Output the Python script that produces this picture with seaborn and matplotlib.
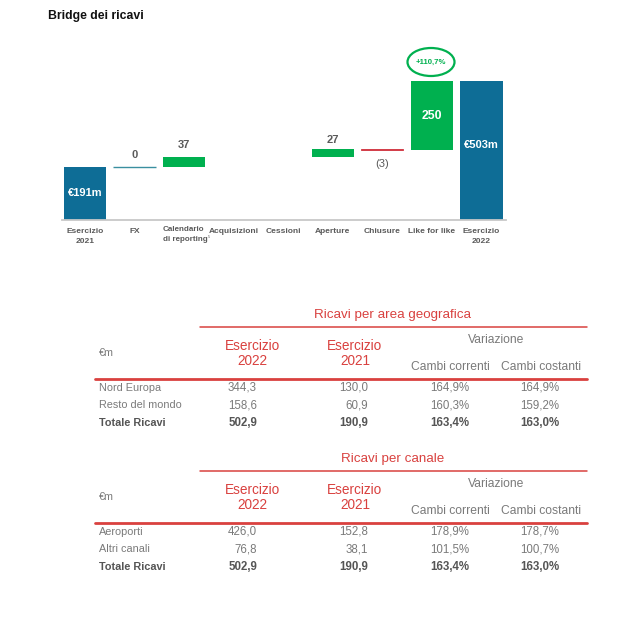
import numpy as np
import pandas as pd
import matplotlib
matplotlib.use("Agg")
import matplotlib.pyplot as plt
from matplotlib.lines import Line2D
from matplotlib.patches import Ellipse
import seaborn as sns

# ---------------- data ----------------
categories = ["Esercizio\n2021", "FX", "Calendario\ndi reporting", "Acquisizioni",
              "Cessioni", "Aperture", "Chiusure", "Like for like", "Esercizio\n2022"]
bridge_values = [191, 0, 37, 0, 0, 27, -3, 250, 503]
bar_kind = ["total", "line", "up", "none", "none", "up", "down", "up", "total"]
bridge_labels = ["€191m", "0", "37", "", "", "27", "(3)", "250", "€503m"]
growth_label = "+110,7%"

table1_title = "Ricavi per area geografica"
table1_rows = ["Nord Europa", "Resto del mondo", "Totale Ricavi"]
table1_2022 = ["344,3", "158,6", "502,9"]
table1_2021 = ["130,0", "60,9", "190,9"]
table1_correnti = ["164,9%", "160,3%", "163,4%"]
table1_costanti = ["164,9%", "159,2%", "163,0%"]

table2_title = "Ricavi per canale"
table2_rows = ["Aeroporti", "Altri canali", "Totale Ricavi"]
table2_2022 = ["426,0", "76,8", "502,9"]
table2_2021 = ["152,8", "38,1", "190,9"]
table2_correnti = ["178,9%", "101,5%", "163,4%"]
table2_costanti = ["178,7%", "100,7%", "163,0%"]

# ---------------- style ----------------
sns.set_style("white")
plt.rcParams["font.family"] = ["Liberation Sans", "DejaVu Sans"]

BLUE = "#0E6D96"
GREEN = "#00B04F"
RED_LINE = "#D0303C"
TEAL = "#3A8FA0"
GREY_TXT = "#5A5A5A"
TAB_RED = "#D9413F"
TAB_GREY = "#7A7A7A"

W, H = 640, 631
fig = plt.figure(figsize=(6.4, 6.31), dpi=100)


def fx(x):
    return x / W


def fy(y):
    return 1 - y / H


# ---------------- waterfall ----------------
ax = fig.add_axes([fx(62), fy(220), fx(506) - fx(62), fy(40) - fy(220)])

# bottoms from running totals
bottoms = []
running = 0
for v, k in zip(bridge_values, bar_kind):
    if k == "total":
        bottoms.append(0)
        running = v
    else:
        bottoms.append(running)
        running += v

color_map = {"total": BLUE, "line": TEAL, "up": GREEN, "down": RED_LINE, "none": "white"}
palette = {c: color_map[k] for c, k in zip(categories, bar_kind)}

df = pd.DataFrame({"cat": categories, "val": bridge_values})
sns.barplot(data=df, x="cat", y="val", hue="cat", palette=palette, order=categories,
            hue_order=categories, legend=False, width=0.85, saturation=1,
            errorbar=None, ax=ax, linewidth=0)

for p in ax.patches:
    idx = int(round(p.get_x() + p.get_width() / 2))
    kind = bar_kind[idx]
    p.set_y(bottoms[idx])
    if kind == "none":
        p.set_visible(False)
    elif kind == "line":
        p.set_edgecolor(TEAL)
        p.set_linewidth(1.0)
    elif kind == "down":
        p.set_edgecolor(RED_LINE)
        p.set_linewidth(0.6)

ax.set_xlim(-0.464, 8.495)
ax.set_ylim(0, 651)
for s in ["top", "right", "left"]:
    ax.spines[s].set_visible(False)
ax.spines["bottom"].set_color("#C8C8C8")
ax.spines["bottom"].set_linewidth(1.3)
ax.set_yticks([])
ax.set_xlabel("")
ax.set_ylabel("")

TICK_FS = 6.0
ax.set_xticks(range(len(categories)))
ax.set_xticklabels([c if i != 2 else "" for i, c in enumerate(categories)],
                   fontsize=TICK_FS, fontweight="bold", color=GREY_TXT, linespacing=1.6)
ax.tick_params(axis="x", length=0, pad=5.5)
# left-aligned "Calendario di reporting" label
ax.text(2 - 0.425, -0.033, categories[2], transform=ax.get_xaxis_transform(),
        ha="left", va="top", fontsize=5.75, fontweight="bold", color=GREY_TXT,
        linespacing=1.65, multialignment="left")
ax.text(2 + 0.505, -0.092, "5", transform=ax.get_xaxis_transform(),
        ha="center", va="center", fontsize=2.8, color=GREY_TXT)

# value labels
for i, (v, k, lab) in enumerate(zip(bridge_values, bar_kind, bridge_labels)):
    if not lab:
        continue
    top = bottoms[i] + max(v, 0)
    if k == "total":
        ycen = 193 if i == 0 else 145
        ax.text(i, (220 - ycen) / 0.2763, lab, ha="center", va="center",
                color="white", fontsize=8, fontweight="bold")
    elif i == 7:
        ax.text(i, bottoms[i] + v * 0.5, lab, ha="center", va="center",
                color="white", fontsize=8.8, fontweight="bold")
    elif k == "down":
        ax.annotate(lab, (i, bottoms[i] + v), xytext=(0, -6.5), textcoords="offset points",
                    ha="center", va="top", color=GREY_TXT, fontsize=8)
    else:
        off = 3 if i == 5 else 5
        ax.annotate(lab, (i, top), xytext=(0, off), textcoords="offset points",
                    ha="center", va="bottom", color=GREY_TXT, fontsize=8,
                    fontweight="bold")

# growth bubble
ell = Ellipse((fx(431), fy(62)), fx(47), 28 / H, transform=fig.transFigure,
              fill=False, edgecolor=GREEN, linewidth=1.6)
fig.add_artist(ell)
fig.text(fx(431), fy(62), growth_label, ha="center", va="center",
         color=GREEN, fontsize=5.6, fontweight="bold")

# title
fig.text(fx(48), fy(16), "Bridge dei ricavi", ha="left", va="center",
         fontsize=8.8, fontweight="bold", color="#111111")


# ---------------- tables ----------------
def hline(x0, x1, y, lw):
    fig.add_artist(Line2D([fx(x0), fx(x1)], [fy(y), fy(y)], transform=fig.transFigure,
                          color=TAB_RED, linewidth=lw))


def draw_table(y0, title, rows, c22, c21, ccor, ccos):
    # y0 = title center
    fig.text(fx(393), fy(y0), title, ha="center", va="center", color=TAB_RED, fontsize=9.6)
    hline(200, 587, y0 + 12, 1.1)
    fig.text(fx(252), fy(y0 + 31), "Esercizio", ha="center", va="center",
             color=TAB_RED, fontsize=9.8)
    fig.text(fx(252), fy(y0 + 46), "2022", ha="center", va="center",
             color=TAB_RED, fontsize=9.8)
    fig.text(fx(355), fy(y0 + 31), "Esercizio", ha="center", va="center",
             color=TAB_RED, fontsize=9.8)
    fig.text(fx(355), fy(y0 + 46), "2021", ha="center", va="center",
             color=TAB_RED, fontsize=9.8)
    fig.text(fx(496), fy(y0 + 25), "Variazione", ha="center", va="center",
             color=TAB_GREY, fontsize=8.7)
    fig.text(fx(450), fy(y0 + 52), "Cambi correnti", ha="center", va="center",
             color=TAB_GREY, fontsize=8.7)
    fig.text(fx(541), fy(y0 + 52), "Cambi costanti", ha="center", va="center",
             color=TAB_GREY, fontsize=8.7)
    fig.text(fx(99), fy(y0 + 38), "€m", ha="left", va="center",
             color=TAB_GREY, fontsize=7.8)
    hline(95, 587, y0 + 64, 2.0)
    for r, (name, a, b, c, d) in enumerate(zip(rows, c22, c21, ccor, ccos)):
        yy = fy(y0 + 73 + r * 17.3)
        bold = "bold" if r == len(rows) - 1 else "normal"
        col = "#555555" if bold == "bold" else TAB_GREY
        fig.text(fx(99), yy, name, ha="left", va="center", color=col,
                 fontsize=7.8, fontweight=bold)
        for xr, val in zip([257, 368, 469, 559], [a, b, c, d]):
            fig.text(fx(xr), yy, val, ha="right", va="center", color=col,
                     fontsize=8.3, fontweight=bold)


draw_table(315, table1_title, table1_rows, table1_2022, table1_2021,
           table1_correnti, table1_costanti)
draw_table(459, table2_title, table2_rows, table2_2022, table2_2021,
           table2_correnti, table2_costanti)

fig.savefig("out.png", dpi=100)
